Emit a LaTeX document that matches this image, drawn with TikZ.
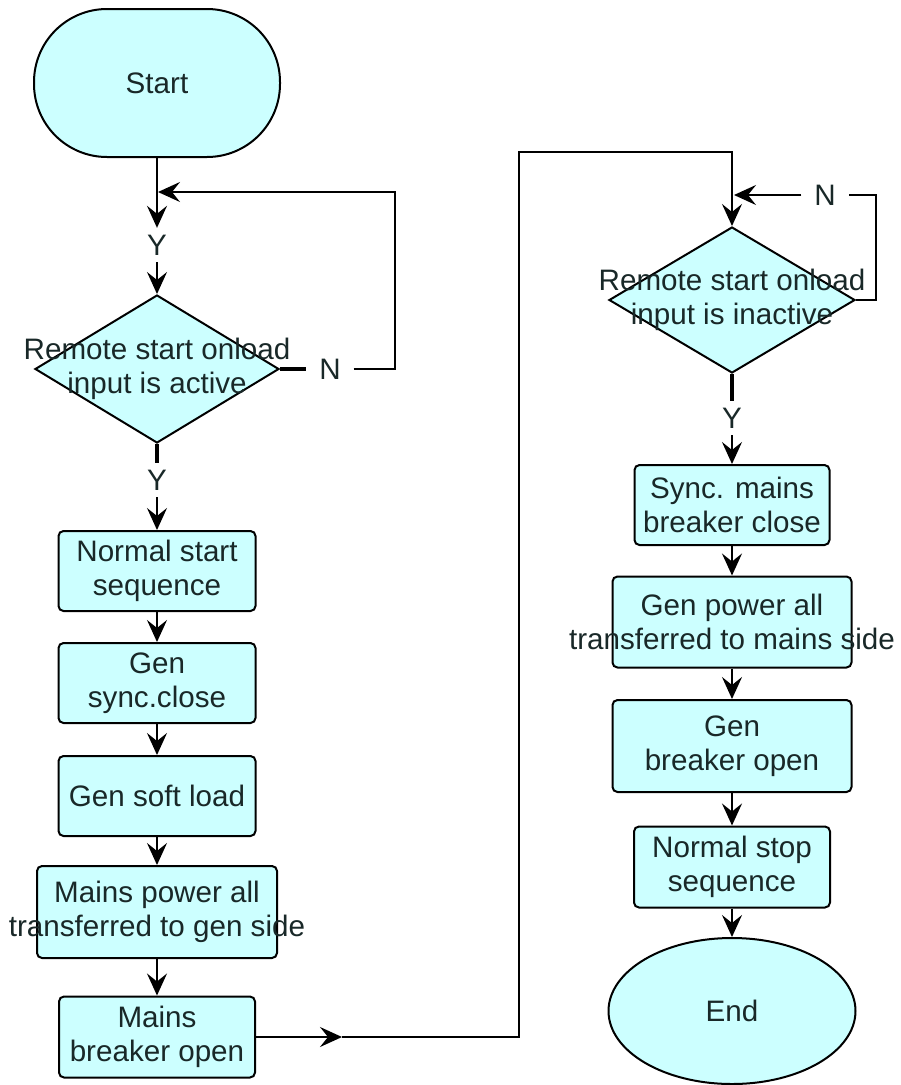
\documentclass[tikz,border=0pt]{standalone}
\usepackage{fontspec}
\setmainfont{Liberation Sans}
\usetikzlibrary{shapes.geometric,arrows.meta}
\definecolor{boxfill}{RGB}{204,255,255}
\definecolor{ink}{RGB}{25,40,40}
\newcommand{\wide}[1]{\makebox[0pt]{#1}}

\begin{document}
\begin{tikzpicture}[x=1pt,y=-1pt,line width=2pt,
  every node/.style={font=\fontsize{29.6}{34.5}\selectfont, text=ink},
  proc/.style={draw, fill=boxfill, rounded corners=5pt, inner sep=0pt, align=center, minimum width=197pt, minimum height=80pt},
  decide/.style={draw, diamond, fill=boxfill, inner sep=0pt, align=center, minimum width=244pt, minimum height=148pt},
  term/.style={draw, fill=boxfill, inner sep=0pt},
  flow/.style={-{Stealth[length=22pt,width=20pt,inset=8pt]}},
  stub/.style={line width=4.5pt},
  yn/.style={inner sep=6pt}]
  \useasboundingbox (0,0) rectangle (901,1085);

  % left column
  \node[term, rounded corners=73pt, minimum width=246pt, minimum height=148pt] (start) at (157,83) {Start};
  \node[yn] (y1) at (157,245) {Y};
  \node[decide] (dec1) at (157,369) {\wide{Remote start onload}\\\wide{input is active}};
  \node[yn, inner xsep=12pt] (n1) at (330,369) {N};
  \node[yn] (y2) at (157,480) {Y};
  \node[proc] (nss) at (157,571) {Normal start\\sequence};
  \node[proc] (gsc) at (157,683) {Gen\\sync.close};
  \node[proc] (gsl) at (157,796) {Gen soft load};
  \node[proc, minimum width=240pt, minimum height=92pt] (mpa) at (157,912) {Mains power all\\\wide{transferred to gen side}};
  \node[proc, minimum width=196pt, minimum height=81pt] (mbo) at (157,1037) {Mains\\breaker open};
  \coordinate (loop1) at (395,192);
  \coordinate (join1) at (158,192);
  \coordinate (midarr) at (342,1037);
  \coordinate (turn) at (519,152);

  % right column
  \node[decide, minimum width=246pt, minimum height=146pt] (dec2) at (732,300) {\wide{Remote start onload}\\\wide{input is inactive}};
  \node[yn, inner xsep=12pt] (n2) at (825,195) {N};
  \node[yn] (y3) at (732,418) {Y};
  \node[proc, minimum width=195pt] (sync) at (732,505) {Sync. mains\\breaker close};
  \node[proc, minimum width=239pt, minimum height=91pt] (gpa) at (732,622) {Gen power all\\\wide{transferred to mains side}};
  \node[proc, minimum width=239pt, minimum height=92pt] (gbo) at (732,746) {Gen\\breaker open};
  \node[proc, minimum width=196pt, minimum height=81pt] (nstop) at (732,867) {Normal stop\\sequence};
  \node[term, ellipse, minimum width=247pt, minimum height=146pt] (finish) at (732,1011) {End};
  \coordinate (loop2) at (876,195);
  \coordinate (join2) at (734,195);

  \draw[flow] (start) -- (y1);
  \draw[flow] (y1) -- (dec1);
  \draw[stub] (dec1.east) -- (n1);
  \draw[flow] (n1) -| (loop1) -- (join1);
  \draw[stub] (dec1) -- (y2);
  \draw[flow] (y2) -- (nss);
  \draw[flow] (nss) -- (gsc);
  \draw[flow] (gsc) -- (gsl);
  \draw[flow] (gsl) -- (mpa);
  \draw[flow] (mpa) -- (mbo);
  \draw[flow] (mbo) -- (midarr);
  \draw[flow] (midarr) -| (turn) -| (dec2);
  \draw (dec2.east) -| (loop2) -- (n2);
  \draw[flow] (n2) -- (join2);
  \draw[stub] (dec2) -- (y3);
  \draw[flow] (y3) -- (sync);
  \draw[flow] (sync) -- (gpa);
  \draw[flow] (gpa) -- (gbo);
  \draw[flow] (gbo) -- (nstop);
  \draw[flow] (nstop) -- (finish);
\end{tikzpicture}
\end{document}
